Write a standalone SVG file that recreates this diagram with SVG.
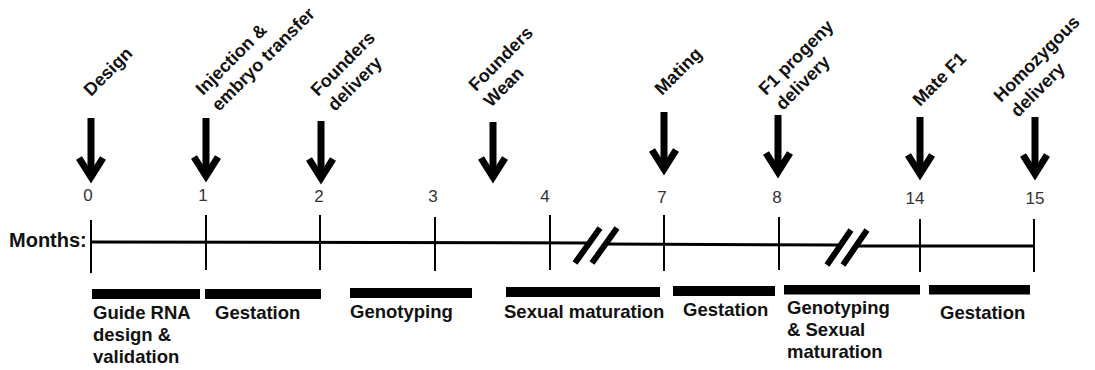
<svg xmlns="http://www.w3.org/2000/svg" width="1095" height="370" viewBox="0 0 1095 370">
<style>
  .lbl { font-family: "Liberation Sans", Arial, sans-serif; font-weight: bold; font-size: 18px; fill: #111; }
  .bar-lbl { font-family: "Liberation Sans", Arial, sans-serif; font-weight: bold; font-size: 18.5px; fill: #111; }
  .num { font-family: "Liberation Sans", Arial, sans-serif; font-size: 17px; fill: #333; text-anchor: middle; }
  .shaft { stroke: #000; stroke-width: 7; fill: none; }
  .head { stroke: #000; stroke-width: 7; fill: none; stroke-linejoin: miter; stroke-linecap: butt; }
  .axis { stroke: #000; stroke-width: 3; fill: none; }
  .tick { stroke: #000; stroke-width: 2; fill: none; }
  .brk { stroke: #000; stroke-width: 6; fill: none; }
  .bar { fill: #000; }
</style>
<rect width="1095" height="370" fill="#fff"/>

<g id="timeline">
  <text x="9" y="247" style="font-family:'Liberation Sans',Arial,sans-serif;font-weight:bold;font-size:20px;fill:#111">Months:</text>
  <path class="axis" d="M91 242 L590 243 M605 244 L840 245 M856 246 L1034 246"/>
  <path class="brk" d="M575 263 L600 228 M592 263 L617 228 M827 265 L851 230 M843 265 L867 230"/>
  <path class="tick" d="M91 220 V273 M206 215 V270 M320 215 V270 M435 217 V271 M550 215 V270 M664 215 V271 M779 217 V270 M920 219 V272 M1034 219 V272"/>
  <g id="month-numbers">
    <text class="num" x="88" y="201">0</text>
    <text class="num" x="203" y="201">1</text>
    <text class="num" x="319" y="202">2</text>
    <text class="num" x="433" y="202">3</text>
    <text class="num" x="545" y="202">4</text>
    <text class="num" x="662" y="203">7</text>
    <text class="num" x="777" y="203">8</text>
    <text class="num" x="915" y="204">14</text>
    <text class="num" x="1035" y="204">15</text>
  </g>
</g>

<g id="connectors">
  <path class="shaft" d="M91 118 V176 M206 118 V175 M321 121 V177 M493 122 V176 M664 112 V168 M778 115 V171 M920 117 V173 M1035 117 V173"/>
  <path class="head" d="M79 158 L91 177 L103 158"/>
  <path class="head" d="M194 157 L206 176 L218 157"/>
  <path class="head" d="M309 159 L321 178 L333 159"/>
  <path class="head" d="M481 158 L493 177 L505 158"/>
  <path class="head" d="M652 150 L664 169 L676 150"/>
  <path class="head" d="M766 153 L778 172 L790 153"/>
  <path class="head" d="M908 155 L920 174 L932 155"/>
  <path class="head" d="M1023 155 L1035 174 L1047 155"/>
</g>

<g id="event-design"><text class="lbl" x="91" y="97" transform="rotate(-45 91 97)">Design</text></g>
<g id="event-injection">
  <text class="lbl" x="203" y="96" transform="rotate(-45 203 96)">Injection &amp;</text>
  <text class="lbl" x="219" y="112" transform="rotate(-45 219 112)">embryo transfer</text>
</g>
<g id="event-founders-delivery">
  <text class="lbl" x="318" y="97" transform="rotate(-45 318 97)">Founders</text>
  <text class="lbl" x="335" y="112" transform="rotate(-45 335 112)">delivery</text>
</g>
<g id="event-founders-wean">
  <text class="lbl" x="476" y="92" transform="rotate(-45 476 92)">Founders</text>
  <text class="lbl" x="491" y="108" transform="rotate(-45 491 108)">Wean</text>
</g>
<g id="event-mating"><text class="lbl" x="662" y="96" transform="rotate(-45 662 96)">Mating</text></g>
<g id="event-f1-delivery">
  <text class="lbl" x="766" y="96" transform="rotate(-45 766 96)">F1 progeny</text>
  <text class="lbl" x="783" y="111" transform="rotate(-45 783 111)">delivery</text>
</g>
<g id="event-mate-f1"><text class="lbl" x="920" y="107" transform="rotate(-45 920 107)">Mate F1</text></g>
<g id="event-homozygous">
  <text class="lbl" x="1001" y="103" transform="rotate(-45 1001 103)">Homozygous</text>
  <text class="lbl" x="1018" y="118" transform="rotate(-45 1018 118)">delivery</text>
</g>

<g id="phase-guide-rna">
  <rect class="bar" x="92" y="289" width="108" height="10"/>
  <text class="bar-lbl" x="93" y="319">Guide RNA</text>
  <text class="bar-lbl" x="93" y="341">design &amp;</text>
  <text class="bar-lbl" x="93" y="363">validation</text>
</g>
<g id="phase-gestation-1">
  <rect class="bar" x="205" y="289" width="116" height="10"/>
  <text class="bar-lbl" x="215" y="319">Gestation</text>
</g>
<g id="phase-genotyping">
  <rect class="bar" x="350" y="288" width="122" height="10"/>
  <text class="bar-lbl" x="350" y="318">Genotyping</text>
</g>
<g id="phase-sexual-maturation">
  <rect class="bar" x="506" y="287" width="154" height="10"/>
  <text class="bar-lbl" x="504" y="318">Sexual maturation</text>
</g>
<g id="phase-gestation-2">
  <rect class="bar" x="673" y="286" width="102" height="10"/>
  <text class="bar-lbl" x="683" y="316">Gestation</text>
</g>
<g id="phase-genotyping-maturation">
  <rect class="bar" x="784" y="285" width="136" height="9.5"/>
  <text class="bar-lbl" x="787" y="314">Genotyping</text>
  <text class="bar-lbl" x="787" y="336">&amp; Sexual</text>
  <text class="bar-lbl" x="787" y="358">maturation</text>
</g>
<g id="phase-gestation-3">
  <rect class="bar" x="929" y="285" width="101" height="9.5"/>
  <text class="bar-lbl" x="940" y="319">Gestation</text>
</g>
</svg>
